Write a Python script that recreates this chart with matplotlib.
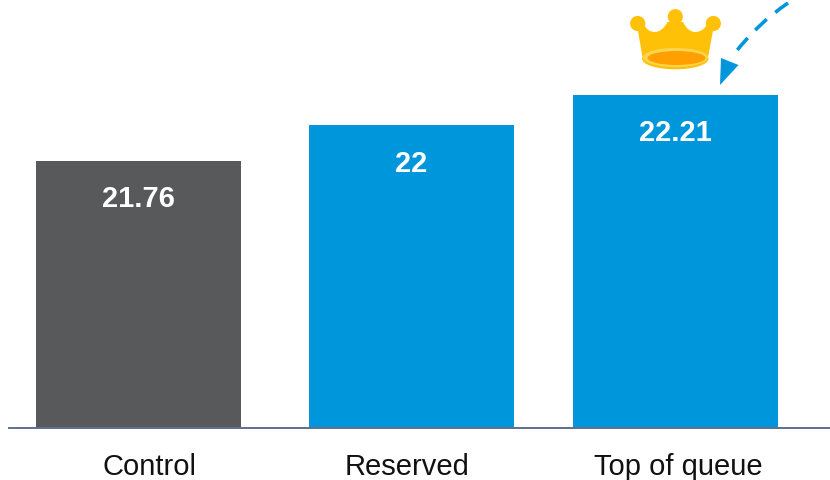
import matplotlib
matplotlib.use('Agg')
import matplotlib.pyplot as plt
from matplotlib.patches import Circle, Ellipse, PathPatch, Polygon
from matplotlib.path import Path

categories = ['Control', 'Reserved', 'Top of queue']
values = [21.76, 22, 22.21]
labels = ['21.76', '22', '22.21']
colors = ['#58595B', '#0096DB', '#0096DB']

# bar and label layout in figure pixels
centers = [138.5, 411.5, 675.5]
label_centers = [150, 407, 678.5]
bar_width = 205
blue = '#0096DB'

plt.rcParams['font.family'] = ['Liberation Sans', 'DejaVu Sans']

fig = plt.figure(figsize=(8.3, 4.8), dpi=100)
ax = fig.add_axes([9 / 830, 52 / 480, 821 / 830, 428 / 480])
ax.bar(centers, values, width=bar_width, color=colors, linewidth=0)
ax.set_xlim(9, 830)
ax.set_ylim(19.939, 22.855)

for x, v, label in zip(centers, values, labels):
    ax.annotate(label, (x, v), xytext=(0, -27.6), textcoords='offset points',
                ha='center', va='center', color='white', fontsize=21, fontweight='bold')

for side in ['left', 'right', 'top']:
    ax.spines[side].set_visible(False)
ax.spines['bottom'].set_color('#5F6F8E')
ax.spines['bottom'].set_linewidth(1.4)
ax.set_yticks([])
ax.set_xticks(label_centers)
ax.set_xticklabels(categories, fontsize=21, color='#111111')
ax.tick_params(axis='x', length=0, pad=18)

# overlay in pixel coordinates for the crown and the arrow
over = fig.add_axes([0, 0, 1, 1], facecolor='none')
over.set_xlim(0, 830)
over.set_ylim(480, 0)
over.axis('off')

gold = '#FFC107'
for cx, cy in [(637.7, 23.5), (675.3, 16.7), (713.3, 23.5)]:
    over.add_patch(Circle((cx, cy), 7.6, color=gold, linewidth=0))
crown = Path(
    [(637.5, 28), (643, 60), (707.5, 60), (713.5, 28), (706, 26),
     (702, 32), (695, 32), (688, 32), (683, 22), (667.5, 22),
     (662, 32), (655, 32), (648, 32), (645, 26), (637.5, 28)],
    [Path.MOVETO, Path.LINETO, Path.LINETO, Path.LINETO, Path.LINETO,
     Path.CURVE3, Path.CURVE3, Path.CURVE3, Path.CURVE3, Path.LINETO,
     Path.CURVE3, Path.CURVE3, Path.CURVE3, Path.CURVE3, Path.CLOSEPOLY])
over.add_patch(PathPatch(crown, facecolor=gold, edgecolor='none'))
over.add_patch(Ellipse((675.3, 58.8), 66.5, 21, facecolor=gold, edgecolor='none'))
over.add_patch(Ellipse((675.5, 57.5), 65, 19, facecolor='#FFD54F', edgecolor='none'))
over.add_patch(Ellipse((676.5, 58), 58, 14, facecolor='#FFA000', edgecolor='none'))

# dashed curve and its arrow head
curve = Path([(788, 3), (757, 24), (735, 53)], [Path.MOVETO, Path.CURVE3, Path.CURVE3])
over.add_patch(PathPatch(curve, facecolor='none', edgecolor=blue, linewidth=2.6,
                         linestyle=(0, (4.4, 3)), capstyle='butt'))
over.add_patch(Polygon([(721, 58), (738.5, 65), (720, 85)], closed=True,
                       facecolor=blue, edgecolor='none'))

fig.savefig('out.png', dpi=100)
